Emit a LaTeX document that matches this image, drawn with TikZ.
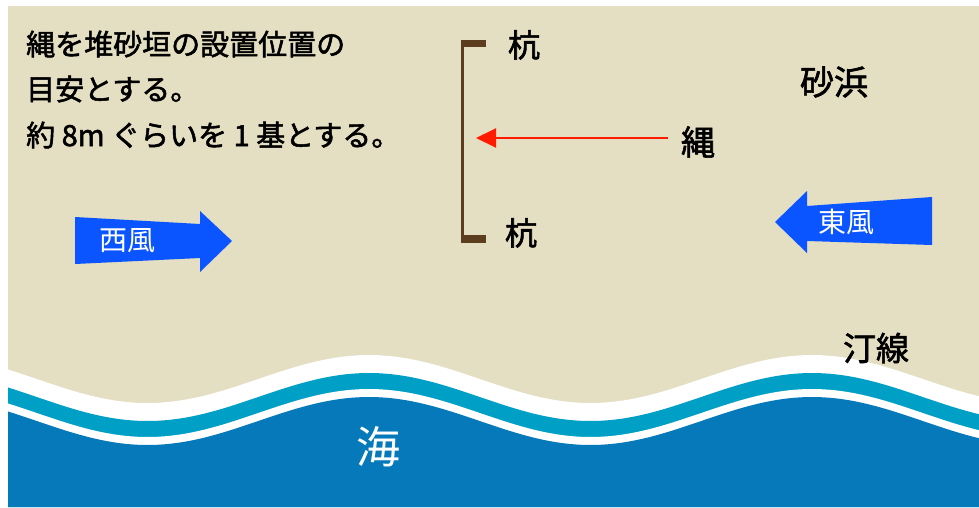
\documentclass[tikz,border=0pt]{standalone}
\usepackage{fontspec}
\usetikzlibrary{arrows.meta}
\newfontfamily\jp{Noto Sans CJK JP}
\newfontfamily\jpb[FakeBold=1.8]{Noto Sans CJK JP}
\definecolor{sand}{RGB}{228,222,194}
\definecolor{teal}{RGB}{0,160,198}
\definecolor{seablue}{RGB}{5,121,186}
\definecolor{stake}{RGB}{92,61,30}
\definecolor{ropered}{RGB}{255,26,0}
\definecolor{windblue}{RGB}{10,85,255}
\newcommand\seaband[2]{\fill[#1] plot[domain=8:979,samples=150] (\x,{379+#2-24*cos(0.81264*(\x-369))}) -- (979,507) -- (8,507) -- cycle;}
\tikzset{
  note/.style={inner sep=0pt, anchor=west, font=\jpb\fontsize{29}{34}\selectfont},
  lbl/.style={inner sep=0pt, font=\jpb\fontsize{#1}{#1}\selectfont},
  windtext/.style={inner sep=0pt, text=white, font=\jp\fontsize{28}{28}\selectfont},
  wind/.style={fill=windblue},
  stakebar/.style={fill=stake}
}
\begin{document}
\begin{tikzpicture}[x=1pt,y=-1pt]
\useasboundingbox (0,0) rectangle (979,507);
\fill[sand] (8,6) rectangle (979,507);
\seaband{white}{0}
\seaband{teal}{18}
\seaband{white}{34}
\seaband{seablue}{42}
% text block
\node[note] (t1) at (26,44) {縄を堆砂垣の設置位置の};
\node[note] (t2) at (26,89) {目安とする。};
\node[note] (t3) at (26,135) {約 8m ぐらいを 1 基とする。};
% stakes and rope
\fill[stakebar] (461,40) rectangle (486,47);
\fill[stakebar] (461,235) rectangle (486,243);
\fill[stakebar] (461,40) rectangle (463.5,243);
\node[lbl=32] (k1) at (524,45) {杭};
\node[lbl=32] (k2) at (521,233) {杭};
\node[lbl=34] (rope) at (698,142) {縄};
\coordinate (rs) at (668,138);
\coordinate (re) at (476,138);
\draw[ropered, line width=2pt, -{Triangle[length=20pt,width=19pt]}] (rs) -- (re);
% winds
\fill[wind] (75,217) -- (200,224) -- (200,211) -- (232,241) -- (200,272) -- (200,258) -- (75,264) -- cycle;
\node[windtext] (w) at (127,241) {西風};
\fill[wind] (932,197) -- (807,206) -- (807,191) -- (775,222) -- (807,253) -- (807,241) -- (932,245) -- cycle;
\node[windtext] (e) at (846,222) {東風};
% labels
\node[lbl=34] (beach) at (834,82) {砂浜};
\node[lbl=33] (shore) at (876,348) {汀線};
\node[inner sep=0pt, text=white, font=\jp\fontsize{44}{44}\selectfont] (sea) at (378,447) {海};
\end{tikzpicture}
\end{document}
